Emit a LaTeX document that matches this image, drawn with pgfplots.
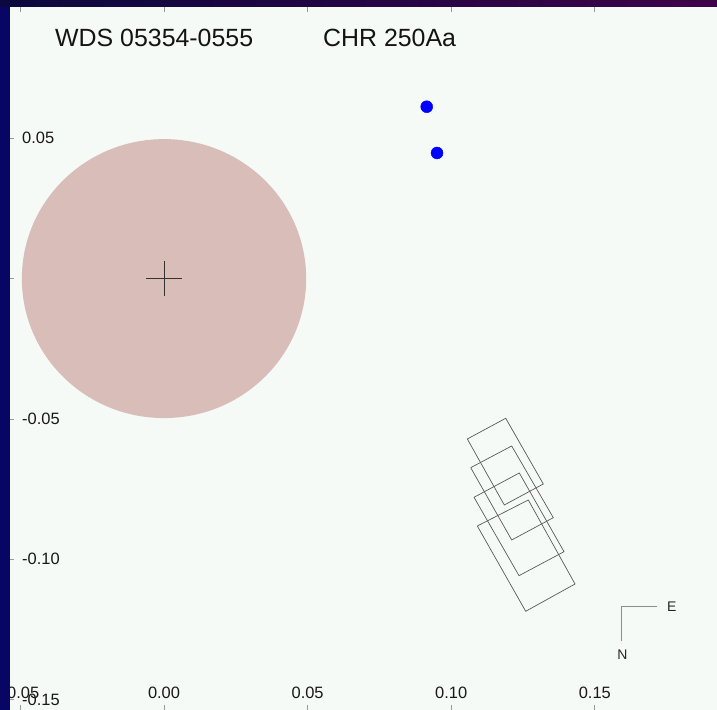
\documentclass[border=0pt]{standalone}
\usepackage{pgfplots}
\pgfplotsset{compat=1.18}
\usepackage{fontspec}
\setmainfont{Liberation Sans}
\definecolor{plotbg}{RGB}{246,250,247}
\definecolor{circ}{RGB}{216,189,185}
\definecolor{navy}{RGB}{8,6,100}
\definecolor{topl}{RGB}{10,8,62}
\definecolor{topr}{RGB}{62,2,72}
\definecolor{rectc}{RGB}{90,90,90}
\begin{document}
\begin{tikzpicture}[x=1bp,y=1bp]
\begin{axis}[at={(9.5bp,0bp)}, anchor=south west, scale only axis,
  width=707.5bp, height=703bp,
  xmin=-0.0538, xmax=0.19255, ymin=-0.15371, ymax=0.09677,
  axis background/.style={fill=plotbg},
  axis line style={draw=none},
  xtick={-0.05,0,0.05,0.1,0.15}, xticklabels={-0.05,0.00,0.05,0.10,0.15},
  ytick={-0.15,-0.1,-0.05,0,0.05}, yticklabels={-0.15,-0.10,-0.05,{},0.05},
  xtick pos=both, xticklabel pos=lower, ytick pos=left,
  tick align=inside, major tick length=5bp,
  tick style={black!40, line width=0.7bp},
  xticklabel style={anchor=base, yshift=11.7bp, inner sep=0pt,
    font=\fontsize{16.5}{18}\selectfont, text=black!90},
  yticklabel style={anchor=west, xshift=12.5bp, inner sep=0pt,
    font=\fontsize{16.5}{18}\selectfont, text=black!90},
  clip=false,
]
\fill[circ] (axis cs:0,0) ellipse [x radius=0.0495, y radius=0.0497];
\addplot[black!80, line width=0.8bp] coordinates {(-0.00627,0) (0.00627,0)};
\addplot[black!80, line width=0.8bp] coordinates {(0,-0.00634) (0,0.00634)};
\addplot[only marks, mark=*, mark size=6bp, blue, mark options={draw=blue, fill=blue}]
  coordinates {(0.09147,0.06124) (0.09506,0.04475)};
\addplot[rectc, line width=0.7bp] coordinates {(0.10561,-0.05715) (0.11898,-0.04977) (0.13207,-0.07318) (0.11849,-0.08066) (0.10561,-0.05715)};
\addplot[rectc, line width=0.7bp] coordinates {(0.10679,-0.06737) (0.12106,-0.05964) (0.13555,-0.08519) (0.12106,-0.09313) (0.10679,-0.06737)};
\addplot[rectc, line width=0.7bp] coordinates {(0.10794,-0.07792) (0.12371,-0.06926) (0.13928,-0.09730) (0.12361,-0.10585) (0.10794,-0.07792)};
\addplot[rectc, line width=0.7bp] coordinates {(0.10909,-0.08815) (0.12685,-0.07888) (0.14311,-0.10881) (0.12594,-0.11854) (0.10909,-0.08815)};
\addplot[black!45, line width=0.8bp] coordinates {(0.17176,-0.11690) (0.15937,-0.11690) (0.15937,-0.12901)};
\node[font=\fontsize{14}{16}\selectfont, text=black!85] at (axis cs:0.17678,-0.11690) {E};
\node[font=\fontsize{14}{16}\selectfont, text=black!85] at (axis cs:0.15958,-0.13411) {N};
\end{axis}
\node[anchor=base west, inner sep=0pt, font=\fontsize{25}{28}\selectfont, text=black!92] at (55bp,663.3bp) {WDS 05354-0555};
\node[anchor=base west, inner sep=0pt, font=\fontsize{25}{28}\selectfont, text=black!92] at (323bp,663.3bp) {CHR 250Aa};
\fill[navy] (0,0) rectangle (10bp,710bp);
\shade[left color=topl, right color=topr] (0,703bp) rectangle (717bp,710bp);
\pgfresetboundingbox
\path[use as bounding box] (0,0) rectangle (717bp,710bp);
\end{tikzpicture}
\end{document}
